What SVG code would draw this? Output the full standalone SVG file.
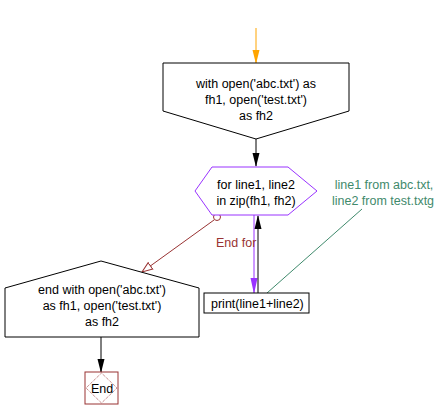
<svg xmlns="http://www.w3.org/2000/svg" width="442" height="420" viewBox="0 0 442 420">
<defs>
<style>
text{font-family:"Liberation Sans",Arial,sans-serif;font-size:12.5px;fill:#000}
.box{fill:#fff;stroke:#000;stroke-width:1}
.c{text-anchor:middle}
.g{fill:#3F8A6C}
</style>
<marker id="ao" markerWidth="14" markerHeight="8" refX="13" refY="4" orient="auto" markerUnits="userSpaceOnUse" viewBox="0 0 14 8"><path d="M0,0.5 L14,4 L0,7.5 Z" fill="#FFA500"/></marker>
<marker id="ak" markerWidth="14" markerHeight="8" refX="13" refY="4" orient="auto" markerUnits="userSpaceOnUse" viewBox="0 0 14 8"><path d="M0,0.5 L14,4 L0,7.5 Z" fill="#000"/></marker>
<marker id="am" markerWidth="16" markerHeight="8" refX="15" refY="4" orient="auto" markerUnits="userSpaceOnUse" viewBox="0 0 16 8"><path d="M0,0.5 L16,4 L0,7.5 Z" fill="#9933FF"/></marker>
<marker id="ar" markerWidth="12" markerHeight="10" refX="11" refY="5" orient="auto" markerUnits="userSpaceOnUse" viewBox="0 0 12 10"><path d="M0.5,1 L11,5 L0.5,9 Z" fill="#fff" stroke="#993333" stroke-width="1"/></marker>
</defs>
<g id="connectors" fill="none">
<line x1="256" y1="28" x2="256" y2="63" stroke="#FFA500" stroke-width="1" marker-end="url(#ao)"/>
<line x1="256" y1="139" x2="256" y2="166" stroke="#000" marker-end="url(#ak)"/>
<line x1="254" y1="215" x2="254" y2="293" stroke="#9933FF" marker-end="url(#am)"/>
<line x1="258" y1="293" x2="258" y2="216" stroke="#000" marker-end="url(#ak)"/>
<line x1="214" y1="220" x2="142" y2="272" stroke="#993333" marker-end="url(#ar)"/>
<circle cx="217" cy="217" r="3.5" fill="#fff" stroke="#993333"/>
<line x1="362" y1="209" x2="267" y2="293" stroke="#3F8A6C"/>
<line x1="101" y1="337" x2="101" y2="372" stroke="#000" marker-end="url(#ak)"/>
<text x="216" y="247" style="fill:#993333">End for</text>
</g>
<g id="n1">
<path class="box" d="M163,63 H349 V111 L256,139 L163,111 Z"/>
<text class="c" x="256" y="88">with open('abc.txt') as</text>
<text class="c" x="256" y="104">fh1, open('test.txt')</text>
<text class="c" x="256" y="120">as fh2</text>
</g>
<g id="n2">
<path d="M195,191 L212,167 H288 L317,191 L288,215 H212 Z" fill="#fff" stroke="#9933FF"/>
<text class="c" x="256" y="189">for line1, line2</text>
<text class="c" x="256" y="205">in zip(fh1, fh2)</text>
</g>
<g id="comment">
<text class="c g" x="384" y="189">line1 from abc.txt,</text>
<text class="c g" x="383" y="205">line2 from test.txtg</text>
</g>
<g id="n3">
<rect class="box" x="204" y="293" width="105" height="20"/>
<text x="211" y="308">print(line1+line2)</text>
</g>
<g id="n4">
<path class="box" d="M5,288 L101,261 L199,288 V337 H5 Z"/>
<text class="c" x="102" y="294">end with open('abc.txt')</text>
<text class="c" x="102" y="310">as fh1, open('test.txt')</text>
<text class="c" x="102" y="326">as fh2</text>
</g>
<g id="n5">
<rect x="85" y="372" width="33" height="32" fill="#fff" stroke="#993333"/>
<path d="M101.5,373 L117,388 L101.5,403 L86,388 Z" fill="none" stroke="#993333" stroke-width="0.8" stroke-dasharray="1,1"/>
<text class="c" x="102" y="393">End</text>
</g>
</svg>
